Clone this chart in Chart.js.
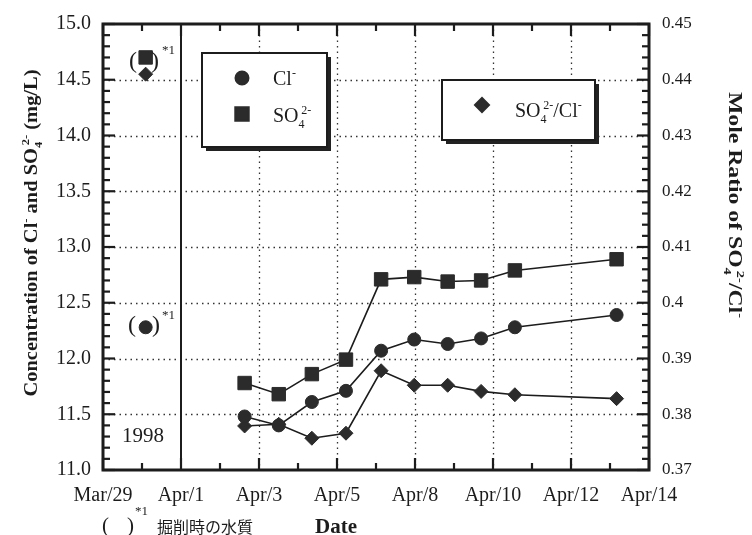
<!DOCTYPE html>
<html>
<head>
<meta charset="utf-8">
<script src="https://cdn.jsdelivr.net/npm/chart.js@4/dist/chart.umd.min.js"></script>
<style>
html,body{margin:0;padding:0;background:#ffffff;}
#wrap{width:752px;height:535px;position:relative;}
canvas{display:block;}
</style>
</head>
<body>
<div id="wrap"><canvas id="c" width="752" height="535"></canvas></div>
<script>
// ---- data (x = days counted from Mar/29) ----
const xTickLabels = ['Mar/29', 'Apr/1', 'Apr/3', 'Apr/5', 'Apr/8', 'Apr/10', 'Apr/12', 'Apr/14'];
const xMin = 0, xMax = 16;
const leftTicks = [11.0, 11.5, 12.0, 12.5, 13.0, 13.5, 14.0, 14.5, 15.0];
const rightTicks = [0.37, 0.38, 0.39, 0.40, 0.41, 0.42, 0.43, 0.44, 0.45];

const sampleDays  = [4.15, 5.15, 6.12, 7.12, 8.15, 9.12, 10.1, 11.08, 12.07, 15.05];
const clValues    = [11.48, 11.40, 11.61, 11.71, 12.07, 12.17, 12.13, 12.18, 12.28, 12.39];
const so4Values   = [11.78, 11.68, 11.86, 11.99, 12.71, 12.73, 12.69, 12.70, 12.79, 12.89];
const ratioValues = [0.3779, 0.3782, 0.3757, 0.3766, 0.3878, 0.3852, 0.3852, 0.3841, 0.3835, 0.3828];

// water quality at excavation time ( )*1
const excavationDay   = [1.25];
const excavationCl    = [12.28];
const excavationSO4   = [14.70];
const excavationRatio = [0.441];

const INK = '#1c1c1c';
const SERIF = '"Liberation Serif", "Times New Roman", serif';

function pts(xs, ys) { return xs.map((d, i) => ({ x: d, y: ys[i] })); }

function lineDs(label, data, axis, style, radius) {
  return {
    label, data, yAxisID: axis,
    borderColor: INK, borderWidth: 1.6, tension: 0,
    pointStyle: style, pointRadius: radius, pointHoverRadius: radius,
    pointBackgroundColor: '#2b2b2b', pointBorderColor: '#2b2b2b', pointBorderWidth: 1,
    fill: false
  };
}

// ---- rich text helper (sub/superscripts) ----
function layoutRich(ctx, parts, size, bold, family) {
  const items = []; let x = 0; let prevSub = null;
  for (const p of parts) {
    const fs = p.s ? Math.round(size * 0.62) : size;
    const font = (bold ? 'bold ' : '') + fs + 'px ' + family;
    ctx.font = font;
    const w = ctx.measureText(p.t).width;
    let sx = x;
    if (p.s === 'sup' && prevSub) sx = prevSub.x + prevSub.w * 0.45;
    const dy = p.s === 'sub' ? size * 0.3 : (p.s === 'sup' ? -size * 0.42 : 0);
    items.push({ t: p.t, x: sx, dy, font });
    x = Math.max(x, sx + w);
    prevSub = p.s === 'sub' ? { x: sx, w } : null;
  }
  return { items, width: x };
}
function drawRich(ctx, parts, x, y, o) {
  ctx.save();
  ctx.translate(x, y);
  if (o.rotate) ctx.rotate(o.rotate);
  const L = layoutRich(ctx, parts, o.size, o.bold, o.family || SERIF);
  if (o.length) ctx.scale(o.length / L.width, 1);
  const x0 = o.align === 'center' ? -L.width / 2 : 0;
  ctx.textBaseline = 'alphabetic'; ctx.textAlign = 'left'; ctx.fillStyle = INK;
  for (const it of L.items) { ctx.font = it.font; ctx.fillText(it.t, x0 + it.x, it.dy); }
  ctx.restore();
}

function seg(ctx, x1, y1, x2, y2) { ctx.beginPath(); ctx.moveTo(x1, y1); ctx.lineTo(x2, y2); ctx.stroke(); }

// ---- frame, dotted grid and inward ticks ----
const framePlugin = {
  id: 'frame',
  beforeDatasetsDraw(chart) {
    const { ctx, chartArea: a, scales } = chart;
    const xs = scales.x, yl = scales.y, yr = scales.y2;
    ctx.save();
    ctx.strokeStyle = '#333'; ctx.lineWidth = 1.3; ctx.setLineDash([1.5, 4]);
    leftTicks.slice(1, -1).forEach(v => {
      const py = Math.round(yl.getPixelForValue(v)) + 0.5;
      seg(ctx, a.left, py, a.right, py);
    });
    const xt = xs.ticks;
    for (let i = 2; i < xt.length - 1; i++) {
      const px = Math.round(xs.getPixelForValue(xt[i].value)) + 0.5;
      seg(ctx, px, a.top, px, a.bottom);
    }
    ctx.setLineDash([]);
    ctx.strokeStyle = INK;
    // solid separator line
    ctx.lineWidth = 2;
    const sepX = xs.getPixelForValue(xt[1].value);
    seg(ctx, sepX, a.top, sepX, a.bottom);
    // ticks
    ctx.lineWidth = 2.2;
    const lMin = leftTicks[0], lMax = leftTicks[leftTicks.length - 1];
    for (let k = 0; k <= 40; k++) {
      const v = lMin + k * (lMax - lMin) / 40;
      const py = yl.getPixelForValue(v);
      seg(ctx, a.left, py, a.left + (k % 5 === 0 ? 12 : 7), py);
    }
    const rMin = rightTicks[0], rMax = rightTicks[rightTicks.length - 1];
    for (let k = 0; k <= 40; k++) {
      const v = rMin + k * (rMax - rMin) / 40;
      const py = yr.getPixelForValue(v);
      seg(ctx, a.right, py, a.right - (k % 5 === 0 ? 12 : 7), py);
    }
    for (let i = 0; i < xt.length; i++) {
      const px = xs.getPixelForValue(xt[i].value);
      seg(ctx, px, a.bottom, px, a.bottom - 12);
      seg(ctx, px, a.top, px, a.top + 12);
      if (i < xt.length - 1) {
        const mx = xs.getPixelForValue((xt[i].value + xt[i + 1].value) / 2);
        seg(ctx, mx, a.bottom, mx, a.bottom - 7);
        seg(ctx, mx, a.top, mx, a.top + 7);
      }
    }
    ctx.lineWidth = 3;
    ctx.strokeRect(a.left, a.top, a.right - a.left, a.bottom - a.top);
    ctx.restore();
  },
  afterDraw(chart) {
    const { ctx } = chart;
    ctx.save();
    // axis titles
    drawRich(ctx, [{ t: 'Concentration of Cl' }, { t: '-', s: 'sup' }, { t: ' and SO' }, { t: '4', s: 'sub' }, { t: '2-', s: 'sup' }, { t: ' (mg/L)' }],
      37, 233, { size: 18, bold: true, rotate: -Math.PI / 2, align: 'center', length: 327 });
    drawRich(ctx, [{ t: 'Mole Ratio of SO' }, { t: '4', s: 'sub' }, { t: '2-', s: 'sup' }, { t: '/Cl' }, { t: '-', s: 'sup' }],
      729, 205, { size: 18, bold: true, rotate: Math.PI / 2, align: 'center', length: 226 });
    drawRich(ctx, [{ t: 'Date' }], 336, 533, { size: 21, bold: true, align: 'center' });

    // legend boxes
    function box(x1, y1, x2, y2) {
      ctx.fillStyle = '#222'; ctx.fillRect(x1 + 4, y1 + 4, x2 - x1, y2 - y1);
      ctx.fillStyle = '#fff'; ctx.fillRect(x1, y1, x2 - x1, y2 - y1);
      ctx.strokeStyle = INK; ctx.lineWidth = 2; ctx.strokeRect(x1, y1, x2 - x1, y2 - y1);
    }
    const mk = (style, r, x, y) => Chart.helpers.drawPoint(ctx, { pointStyle: style, radius: r, rotation: 0, borderWidth: 1 }, x, y);
    box(202, 53, 327, 147);
    ctx.fillStyle = '#2b2b2b'; ctx.strokeStyle = '#2b2b2b';
    mk('circle', 6.5, 242, 78);
    ctx.fillStyle = '#2b2b2b'; ctx.strokeStyle = '#2b2b2b';
    mk('rect', 9.5, 242, 114);
    drawRich(ctx, [{ t: 'Cl' }, { t: '-', s: 'sup' }], 273, 85, { size: 20 });
    drawRich(ctx, [{ t: 'SO' }, { t: '4', s: 'sub' }, { t: '2-', s: 'sup' }], 273, 122, { size: 20 });

    box(442, 80, 595, 140);
    ctx.fillStyle = '#2b2b2b'; ctx.strokeStyle = '#2b2b2b';
    mk('rectRot', 7, 482, 105);
    drawRich(ctx, [{ t: 'SO' }, { t: '4', s: 'sub' }, { t: '2-', s: 'sup' }, { t: '/Cl' }, { t: '-', s: 'sup' }], 515, 117, { size: 20 });

    // annotations
    ctx.fillStyle = INK; ctx.textBaseline = 'middle'; ctx.textAlign = 'left';
    ctx.font = '24px ' + SERIF;
    ctx.fillText('(', 129, 62); ctx.fillText(')', 151, 62);
    ctx.fillText('(', 128, 326); ctx.fillText(')', 152, 326);
    ctx.font = '13px ' + SERIF;
    ctx.fillText('*1', 162, 51); ctx.fillText('*1', 162, 316);
    ctx.font = '21px ' + SERIF;
    ctx.fillText('1998', 122, 436);
    ctx.font = '21px ' + SERIF;
    ctx.fillText('(', 102, 526); ctx.fillText(')', 127, 526);
    ctx.font = '13px ' + SERIF;
    ctx.fillText('*1', 135, 512);
    ctx.font = '16px "Noto Sans CJK JP", sans-serif';
    ctx.fillText('掘削時の水質', 157, 527);
    ctx.restore();
  }
};

new Chart(document.getElementById('c'), {
  type: 'line',
  data: {
    datasets: [
      lineDs('Cl-', pts(sampleDays, clValues), 'y', 'circle', 6.5),
      lineDs('SO4 2-', pts(sampleDays, so4Values), 'y', 'rect', 9.5),
      lineDs('SO4 2-/Cl-', pts(sampleDays, ratioValues), 'y2', 'rectRot', 7),
      Object.assign(lineDs('Cl- (excavation)', pts(excavationDay, excavationCl), 'y', 'circle', 6.5), { showLine: false }),
      Object.assign(lineDs('SO4 2- (excavation)', pts(excavationDay, excavationSO4), 'y', 'rect', 9.5), { showLine: false }),
      Object.assign(lineDs('SO4 2-/Cl- (excavation)', pts(excavationDay, excavationRatio), 'y2', 'rectRot', 7), { showLine: false })
    ]
  },
  options: {
    responsive: false, animation: false, devicePixelRatio: 1,
    layout: { padding: { top: 17, left: 0, right: 0, bottom: 0 } },
    plugins: { legend: { display: false }, tooltip: { enabled: false }, title: { display: false } },
    scales: {
      x: {
        type: 'linear', min: xMin, max: xMax,
        afterBuildTicks: s => { s.ticks = xTickLabels.map((_, i) => ({ value: xMin + i * (xMax - xMin) / (xTickLabels.length - 1) })); },
        afterFit: s => { s.height = 65; },
        grid: { display: false, drawTicks: false }, border: { display: false },
        ticks: { callback: (v, i) => xTickLabels[i], autoSkip: false, maxRotation: 0, color: INK, padding: 14, font: { family: SERIF, size: 20 } }
      },
      y: {
        position: 'left', min: leftTicks[0], max: leftTicks[leftTicks.length - 1],
        afterBuildTicks: s => { s.ticks = leftTicks.map(v => ({ value: v })); },
        afterFit: s => { s.width = 103; },
        grid: { display: false, drawTicks: false }, border: { display: false },
        ticks: { callback: v => v.toFixed(1), color: INK, padding: 12, font: { family: SERIF, size: 20 } }
      },
      y2: {
        position: 'right', min: rightTicks[0], max: rightTicks[rightTicks.length - 1],
        afterBuildTicks: s => { s.ticks = rightTicks.map(v => ({ value: v })); },
        afterFit: s => { s.width = 103; },
        grid: { display: false, drawTicks: false }, border: { display: false },
        ticks: { callback: v => String(+v.toFixed(2)), color: INK, padding: 13, font: { family: SERIF, size: 17 } }
      }
    }
  },
  plugins: [framePlugin]
});
</script>
</body>
</html>
